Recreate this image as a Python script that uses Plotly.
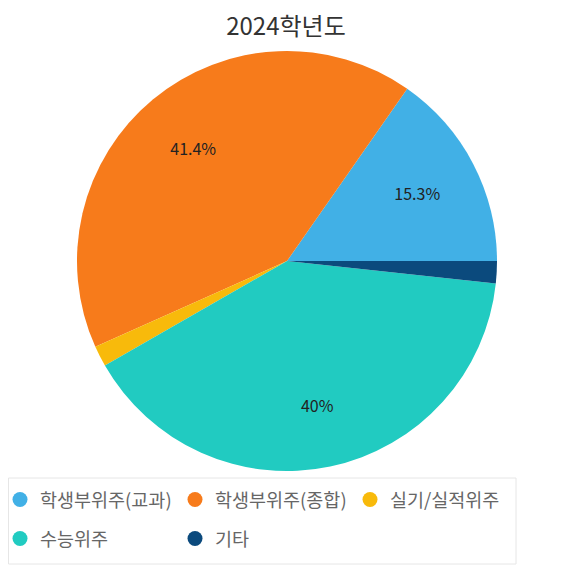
import plotly.graph_objects as go

categories = ["학생부위주(교과)", "학생부위주(종합)", "실기/실적위주", "수능위주", "기타"]
values = [15.3, 41.4, 1.6, 40.0, 1.7]
colors = ["#41B0E6", "#F77B1B", "#F8BA0B", "#21CBC1", "#0B4A7D"]
title_text = "2024학년도"

FONT = "Noto Sans CJK KR"
W, H = 566, 568   # page body has an 8px margin
PB = 470          # plot area bottom (legend sits below it)


def fmt(v):
    s = ("%.1f" % v).rstrip("0").rstrip(".")
    return s + "%"


labels_text = [fmt(v) if v >= 5 else "" for v in values]
total = sum(values)
rot = 90 - 360 * values[0] / total   # first slice starts at 3 o'clock, runs counterclockwise

dom = dict(x=[69 / W, 489 / W], y=[1 - 463 / PB, 1 - 43 / PB])

fig = go.Figure()
# solid pie
fig.add_trace(go.Pie(
    labels=categories, values=values,
    textinfo="none",
    marker=dict(colors=colors, line=dict(width=0)),
    sort=False, direction="counterclockwise", rotation=rot,
    showlegend=False, domain=dom,
    hoverinfo="label+percent",
))
# transparent ring carrying the labels at ~0.7 R
fig.add_trace(go.Pie(
    labels=categories, values=values,
    text=labels_text, textinfo="text",
    textposition="inside", insidetextorientation="horizontal",
    textfont=dict(family=FONT, size=16, color="#222222"),
    marker=dict(colors=["rgba(0,0,0,0)"] * len(values), line=dict(width=0)),
    hole=0.4,
    sort=False, direction="counterclockwise", rotation=rot,
    showlegend=False, domain=dom,
    hoverinfo="skip",
))

for i, (name, col) in enumerate(zip(categories, colors)):
    fig.add_trace(go.Scatter(
        x=[None], y=[None], mode="markers", name=name,
        marker=dict(symbol="circle", size=15, color=col),
        showlegend=True,
        legend="legend" if i < 3 else "legend2",
    ))

leg_common = dict(
    orientation="h",
    xanchor="left",
    yanchor="middle",
    bgcolor="rgba(0,0,0,0)",
    borderwidth=0,
    font=dict(family=FONT, size=18.5, color="#666666"),
    entrywidth=130, entrywidthmode="pixels",
    itemsizing="trace",
)

fig.update_layout(
    width=W, height=H,
    margin=dict(l=0, r=0, t=0, b=H - PB, autoexpand=False),
    paper_bgcolor="white",
    plot_bgcolor="white",
    font=dict(family=FONT),
    title=dict(text=title_text, x=278 / W, xanchor="center", y=1 - 19 / H, yanchor="middle",
               font=dict(family=FONT, size=24, color="#333333")),
    xaxis=dict(visible=False),
    yaxis=dict(visible=False),
    legend=dict(x=-8 / W, y=(PB - 492) / PB, **leg_common),
    legend2=dict(x=-8 / W, y=(PB - 531) / PB, **leg_common),
    shapes=[dict(type="rect", xref="paper", yref="paper",
                 x0=0.5 / W, x1=508 / W, y0=(PB - 556) / PB, y1=0,
                 line=dict(color="#E6E6E6", width=1), fillcolor="rgba(0,0,0,0)",
                 layer="below")],
)

fig.write_html("out.html")
